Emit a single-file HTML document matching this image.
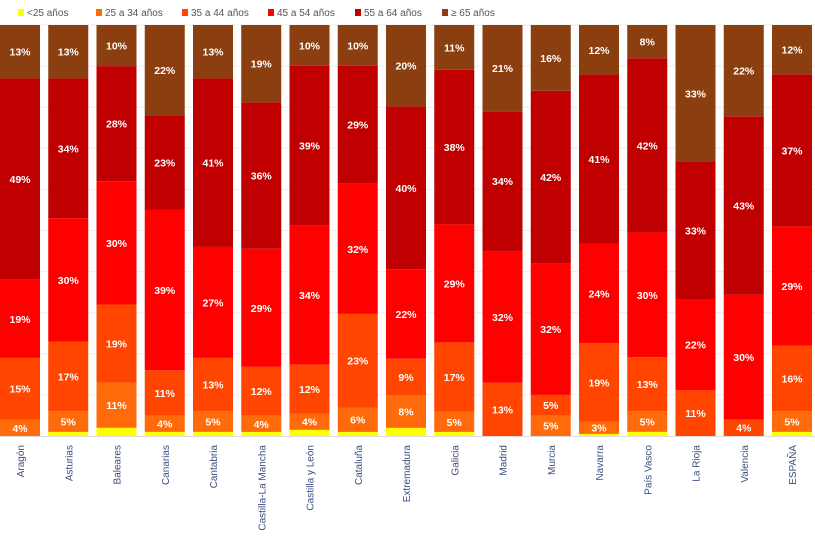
<!DOCTYPE html>
<html><head><meta charset="utf-8">
<style>
body{margin:0;background:#fff;width:815px;height:536px;overflow:hidden;font-family:"Liberation Sans",sans-serif}
svg{display:block}
</style></head>
<body>
<svg id="chart" width="815" height="536" xmlns="http://www.w3.org/2000/svg"></svg>
<script>
const categories=["Aragón","Asturias","Baleares","Canarias","Cantabria","Castilla-La Mancha","Castilla y León","Cataluña","Extremadura","Galicia","Madrid","Murcia","Navarra","País Vasco","La Rioja","Valencia","ESPAÑA"];
const seriesNames=["<25 años","25 a 34 años","35 a 44 años","45 a 54 años","55 a 64 años","≥ 65 años"];
const s0=[0,1,2,1,1,1,1.5,1,2,1,0,0,0.5,1,0,0,1];
const s1=[4,5,11,4,5,4,4,6,8,5,0,5,3,5,0,0,5];
const s2=[15,17,19,11,13,12,12,23,9,17,13,5,19,13,11,4,16];
const s3=[19,30,30,39,27,29,34,32,22,29,32,32,24,30,22,30,29];
const s4=[49,34,28,23,41,36,39,29,40,38,34,42,41,42,33,43,37];
const s5=[13,13,10,22,13,19,10,10,20,11,21,16,12,8,33,22,12];
const colors=["#ffff00","#ff6a0a","#ff4500","#ff0000","#c00000","#8b3e0f"];
const series=[s0,s1,s2,s3,s4,s5];
const svg=document.getElementById('chart');
const NS="http://www.w3.org/2000/svg";
const top0=25,bottom0=436,x0=0,pitch=48.25,bw=40;
function xPos(i){return x0+i*pitch;}
function yScale(frac){return bottom0-frac*(bottom0-top0);}
function mk(t,a){const e=document.createElementNS(NS,t);for(const k in a)e.setAttribute(k,a[k]);svg.appendChild(e);return e;}
// gridlines
for(let g=1;g<=10;g++){const l=mk('line',{x1:0,x2:815,y1:yScale(g/10),y2:yScale(g/10),stroke:'#eeeeee','stroke-width':1});

}
// legend
const legX=[18,96,182,268,355,442];
seriesNames.forEach((n,j)=>{
 const r=mk('rect',{x:legX[j],y:9,width:6,height:7,fill:colors[j]});
 
 
 const t=mk('text',{x:legX[j]+9,y:16,'font-size':10,fill:'#555'});t.textContent=n;
 
 
});
categories.forEach((c,i)=>{
 let tot=0;series.forEach(s=>tot+=s[i]);
 let cum=0;
 series.forEach((s,j)=>{
  const v=s[i];if(v<=0)return;
  const yb=yScale(cum/tot),yt=yScale((cum+v)/tot);
  const r=mk('rect',{x:xPos(i),y:yt,width:bw,height:yb-yt,fill:colors[j]});
  
  
  if(j>0&&v>=3){
   const t=mk('text',{x:xPos(i)+bw/2,y:(yt+yb)/2+4,'font-size':10.5,'font-weight':'bold',fill:'#fff','text-anchor':'middle'});
   t.textContent=Math.round(v)+'%';
   
   
  }
  cum+=v;
 });
 const cx=xPos(i)+bw/2+4;
 const t=mk('text',{x:cx,y:445,'font-size':10,fill:'#3c4c80','text-anchor':'end',transform:`rotate(-90 ${cx} 445)`});
 t.textContent=c;
 
 
});
const base=mk('line',{x1:0,x2:815,y1:bottom0+0.5,y2:bottom0+0.5,stroke:'#dddddd','stroke-width':1});


</script>
</body></html>
